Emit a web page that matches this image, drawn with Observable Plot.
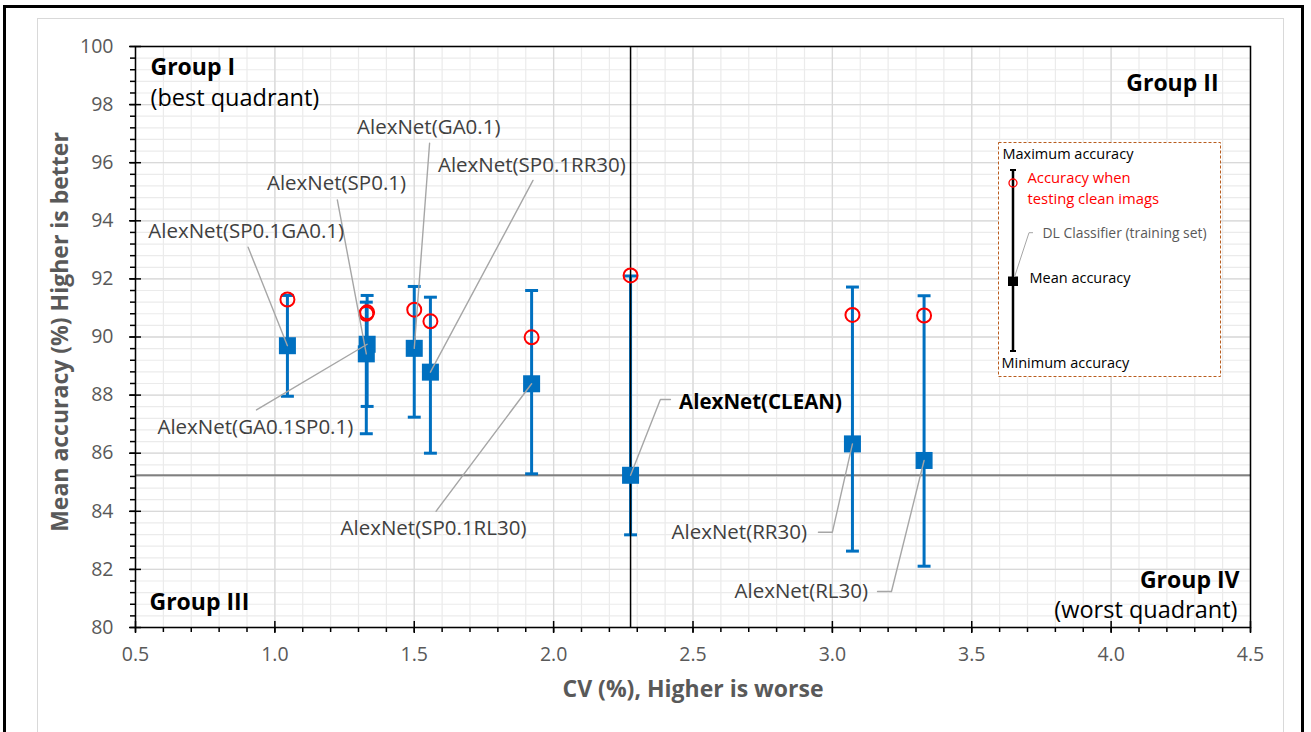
<!DOCTYPE html>
<html>
<head>
<meta charset="utf-8">
<script src="https://cdn.jsdelivr.net/npm/d3@7"></script>
<script src="https://cdn.jsdelivr.net/npm/@observablehq/plot@0.6"></script>
<style>
  html, body { margin: 0; padding: 0; background: #fff; overflow: hidden; }
  #wrap { position: relative; width: 1311px; height: 732px; overflow: hidden; font-family: 'Open Sans', sans-serif; }
  #outer { position: absolute; left: 3px; top: 5px; width: 1301px; height: 800px; border: 3px solid #000; box-sizing: border-box; }
  #inner { position: absolute; left: 37px; top: 18px; width: 1247px; height: 800px; border: 1px solid #d9d9d9; box-sizing: border-box; }
  #chart { position: absolute; left: 0; top: 0; }
  #legend { position: absolute; left: 998px; top: 142px; width: 223px; height: 235px; }
</style>
</head>
<body>
<div id="wrap">
  <div id="outer"></div>
  <div id="inner"></div>
  <div id="chart"></div>
  <div id="legend"></div>
</div>
<script>
// ---------------- data ----------------
const models   = ["SP0.1GA0.1", "GA0.1SP0.1", "SP0.1", "GA0.1", "SP0.1RR30", "SP0.1RL30", "CLEAN", "RR30", "RL30"];
const cvValues = [1.045, 1.331, 1.328, 1.500, 1.558, 1.921, 2.276, 3.072, 3.329];
const meanAcc  = [89.70, 89.75, 89.42, 89.61, 88.79, 88.39, 85.24, 86.32, 85.75];
const maxAcc   = [91.43, 91.43, 91.20, 91.74, 91.37, 91.60, 92.10, 91.72, 91.42];
const minAcc   = [87.96, 87.61, 86.67, 87.24, 86.00, 85.29, 83.19, 82.63, 82.11];
const cleanAcc = [91.29, 90.85, 90.80, 90.94, 90.54, 89.99, 92.12, 90.76, 90.74];

// annotation placement (data units)
const labelX      = [0.897, 0.930, 1.221, 1.552, 1.922, 1.569, 2.450, 2.909, 3.128];
const labelY      = [93.64, 86.90, 95.27, 97.22, 95.91, 83.40, 87.76, 83.26, 81.24];
const labelAnchor = ["middle", "middle", "middle", "middle", "middle", "middle", "start", "end", "end"];
const leaderX     = [0.904, 0.934, 1.224, 1.555, 1.926, 1.578, 2.419, 2.950, 3.162];
const leaderY     = [93.09, 87.49, 94.72, 96.67, 95.39, 84.00, 87.85, 83.28, 81.24];
const elbowX      = [null, null, null, null, null, null, 2.383, 3.000, 3.212];

const xTicks = [0.5, 1.0, 1.5, 2.0, 2.5, 3.0, 3.5, 4.0, 4.5];
const xTickLabels = ["0.5", "1.0", "1.5", "2.0", "2.5", "3.0", "3.5", "4.0", "4.5"];
const yTicks = [80, 82, 84, 86, 88, 90, 92, 94, 96, 98, 100];
const yTickLabels = ["80", "82", "84", "86", "88", "90", "92", "94", "96", "98", "100"];
const xMinorStep = 0.1, yMinorStep = 0.4;

const xTitle = "CV (%), Higher is worse";
const yTitle = "Mean accuracy (%) Higher is better";

// ---------------- derived ----------------
const idx = models.map((_, i) => i);
const cleanIdx = models.indexOf("CLEAN");
const xMinor = d3.range(0, 41).map(k => +(0.5 + k * xMinorStep).toFixed(2));
const yMinor = d3.range(0, 51).map(k => +(80 + k * yMinorStep).toFixed(2));

const leaderPts = [];
idx.forEach(i => {
  leaderPts.push({id: i, x: leaderX[i], y: leaderY[i]});
  if (elbowX[i] != null) leaderPts.push({id: i, x: elbowX[i], y: leaderY[i]});
  leaderPts.push({id: i, x: cvValues[i], y: meanAcc[i]});
});

const capSymbol = {
  draw(context, size) {
    const w = Math.sqrt(size);
    context.moveTo(-w / 2, 0);
    context.lineTo(w / 2, 0);
  }
};

const blue = "#0070c0";
const labelFont = 20.5;

function labelMark(anchor) {
  const sel = idx.filter(i => labelAnchor[i] === anchor && models[i] !== "CLEAN");
  return Plot.text(sel, {
    x: i => labelX[i], y: i => labelY[i], text: i => "AlexNet(" + models[i] + ")",
    textAnchor: anchor, lineAnchor: "middle", fontSize: labelFont, fill: "#404040"
  });
}

const chart = Plot.plot({
  width: 1311,
  height: 732,
  marginLeft: 135,
  marginRight: 61,
  marginTop: 46,
  marginBottom: 105,
  style: {fontFamily: "'Open Sans', sans-serif", background: "transparent", overflow: "visible"},
  x: {domain: [0.5, 4.5], label: null},
  y: {domain: [80, 100], label: null},
  marks: [
    Plot.gridX({ticks: xMinor, stroke: "#ebebeb", strokeOpacity: 1, strokeWidth: 1.2}),
    Plot.gridY({ticks: yMinor, stroke: "#ebebeb", strokeOpacity: 1, strokeWidth: 1.2}),
    Plot.gridX({ticks: xTicks, stroke: "#d9d9d9", strokeOpacity: 1, strokeWidth: 1.3}),
    Plot.gridY({ticks: yTicks, stroke: "#d9d9d9", strokeOpacity: 1, strokeWidth: 1.3}),
    // reference lines through the CLEAN model
    Plot.ruleY([meanAcc[cleanIdx]], {stroke: "#808080", strokeWidth: 2}),
    // error bars
    Plot.ruleX(idx, {x: i => cvValues[i], y1: i => minAcc[i], y2: i => maxAcc[i], stroke: blue, strokeWidth: 3}),
    Plot.dot(idx, {x: i => cvValues[i], y: i => maxAcc[i], symbol: capSymbol, r: 7.3, stroke: blue, strokeWidth: 3}),
    Plot.dot(idx, {x: i => cvValues[i], y: i => minAcc[i], symbol: capSymbol, r: 7.3, stroke: blue, strokeWidth: 3}),
    Plot.ruleX([cvValues[cleanIdx]], {stroke: "#000", strokeWidth: 1.5}),
    // mean markers
    Plot.dot(idx, {x: i => cvValues[i], y: i => meanAcc[i], symbol: "square", r: 9.6, fill: blue}),
    // clean-image accuracy
    Plot.dot(idx, {x: i => cvValues[i], y: i => cleanAcc[i], r: 7, stroke: "#ff0000", strokeWidth: 2, fill: "none"}),
    // leaders
    Plot.line(leaderPts, {x: "x", y: "y", z: "id", stroke: "#a6a6a6", strokeWidth: 1.4, curve: "linear"}),
    // frame
    Plot.frame({stroke: "#000", strokeWidth: 1.5}),
    // axes ticks
    Plot.axisX({ticks: xMinor, tickSize: 5, tickFormat: () => "", color: "#000", strokeWidth: 1.5, label: null}),
    Plot.axisX({ticks: xTicks, tickSize: 12, dy: -6, tickFormat: () => "", color: "#000", strokeWidth: 1.5, label: null}),
    Plot.axisY({ticks: yMinor, tickSize: 5, tickFormat: () => "", color: "#000", strokeWidth: 1.5, label: null}),
    Plot.axisY({ticks: yTicks, tickSize: 12, dx: 6, tickFormat: () => "", color: "#000", strokeWidth: 1.5, label: null}),
    // axes labels
    Plot.axisX({ticks: xTicks, tickSize: 0, tickPadding: 20, tickFormat: d => xTickLabels[xTicks.indexOf(d)], color: "#595959", fontSize: 19.5, label: null}),
    Plot.axisY({ticks: yTicks, tickSize: 0, tickPadding: 22, tickFormat: d => yTickLabels[yTicks.indexOf(d)], color: "#595959", fontSize: 19.5, label: null}),
    // axis titles
    Plot.text([yTitle], {frameAnchor: "left", dx: -75, dy: -5, rotate: -90, textAnchor: "middle", lineAnchor: "middle", fontSize: 23, fontWeight: "bold", fill: "#595959"}),
    Plot.text([xTitle], {frameAnchor: "bottom", dy: 62, textAnchor: "middle", lineAnchor: "middle", fontSize: 23, fontWeight: "bold", fill: "#595959"}),
    // group labels
    Plot.text(["Group I"], {frameAnchor: "top-left", dx: 15, dy: 21, textAnchor: "start", lineAnchor: "middle", fontSize: 23, fontWeight: "bold", fill: "#000"}),
    Plot.text(["(best quadrant)"], {frameAnchor: "top-left", dx: 15, dy: 52, textAnchor: "start", lineAnchor: "middle", fontSize: 23.5, fill: "#000"}),
    Plot.text(["Group II"], {frameAnchor: "top-right", dx: -32, dy: 37, textAnchor: "end", lineAnchor: "middle", fontSize: 23, fontWeight: "bold", fill: "#000"}),
    Plot.text(["Group III"], {frameAnchor: "bottom-left", dx: 14, dy: -25, textAnchor: "start", lineAnchor: "middle", fontSize: 23, fontWeight: "bold", fill: "#000"}),
    Plot.text(["Group IV"], {frameAnchor: "bottom-right", dx: -11, dy: -47, textAnchor: "end", lineAnchor: "middle", fontSize: 23, fontWeight: "bold", fill: "#000"}),
    Plot.text(["(worst quadrant)"], {frameAnchor: "bottom-right", dx: -13, dy: -17, textAnchor: "end", lineAnchor: "middle", fontSize: 23.5, fill: "#000"}),
    // model labels
    labelMark("middle"),
    labelMark("end"),
    Plot.text([cleanIdx], {x: i => labelX[i], y: i => labelY[i], text: i => "AlexNet(" + models[i] + ")", textAnchor: "start", lineAnchor: "middle", fontSize: labelFont, fontWeight: "bold", fill: "#000"})
  ]
});
document.getElementById("chart").appendChild(chart);

// ---------------- legend (drawn key inside the plot area) ----------------
const legendItems = {
  max: "Maximum accuracy",
  clean1: "Accuracy when",
  clean2: "testing clean imags",
  classifier: "DL Classifier (training set)",
  mean: "Mean accuracy",
  min: "Minimum accuracy"
};
const lg = d3.select("#legend").append("svg").attr("width", 223).attr("height", 235)
  .style("font-family", "'Open Sans', sans-serif").style("overflow", "visible");
lg.append("rect").attr("x", 0.5).attr("y", 0.5).attr("width", 222).attr("height", 234)
  .attr("fill", "#fff").attr("stroke", "#b85c1e").attr("stroke-width", 1).attr("stroke-dasharray", "3,2");
lg.append("line").attr("x1", 15).attr("x2", 15).attr("y1", 28).attr("y2", 209).attr("stroke", "#000").attr("stroke-width", 2.5);
lg.append("line").attr("x1", 12).attr("x2", 18).attr("y1", 28).attr("y2", 28).attr("stroke", "#000").attr("stroke-width", 2);
lg.append("line").attr("x1", 12).attr("x2", 18).attr("y1", 209).attr("y2", 209).attr("stroke", "#000").attr("stroke-width", 2);
lg.append("circle").attr("cx", 15).attr("cy", 41).attr("r", 4).attr("fill", "none").attr("stroke", "#ff0000").attr("stroke-width", 1.3);
lg.append("rect").attr("x", 10).attr("y", 134.5).attr("width", 10).attr("height", 9.5).attr("fill", "#000");
lg.append("path").attr("d", "M35,90.7 L31,90.7 L16.5,135").attr("fill", "none").attr("stroke", "#a6a6a6").attr("stroke-width", 1);
const txt = (t, x, y, fill, size) => lg.append("text").attr("x", x).attr("y", y).attr("dy", "0.35em")
  .attr("fill", fill).attr("font-size", size).text(t);
txt(legendItems.max, 4.5, 12, "#000", 14.5);
txt(legendItems.clean1, 29.5, 36, "#ff0000", 14.8);
txt(legendItems.clean2, 29.5, 57, "#ff0000", 14.8);
txt(legendItems.classifier, 44.5, 90.7, "#595959", 13.9);
txt(legendItems.mean, 31.5, 136.3, "#000", 14.5);
txt(legendItems.min, 3.5, 220.7, "#000", 14.5);
</script>
</body>
</html>
